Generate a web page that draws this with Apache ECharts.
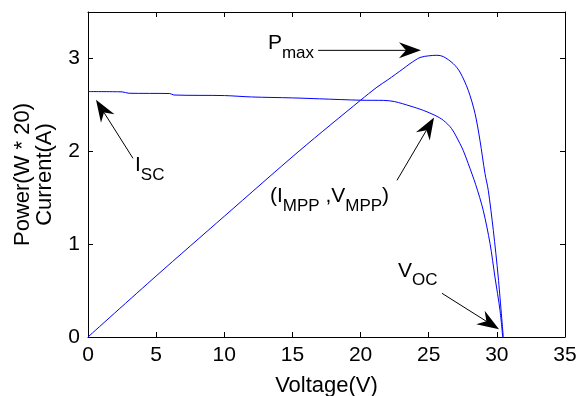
<!DOCTYPE html>
<html>
<head>
<meta charset="utf-8">
<script src="https://cdn.jsdelivr.net/npm/echarts@6/dist/echarts.min.js"></script>
<style>
html,body{margin:0;padding:0;background:#fff;}
#c{width:578px;height:396px;}
</style>
</head>
<body>
<div id="c"></div>
<script>
// ---- data ----
const xTicks = [0, 5, 10, 15, 20, 25, 30, 35];
const yTicks = [0, 1, 2, 3];

const currentV = [0, 2.5, 3.0, 6.0, 6.3, 10, 12, 15, 17, 20, 21.7, 22.5, 23.63, 24.6, 25.46, 26.07, 26.68, 27.29, 27.53, 27.9, 28.45, 29.0, 29.5, 29.86, 30.23, 30.43];
const currentI = [2.643, 2.640, 2.625, 2.622, 2.606, 2.600, 2.585, 2.575, 2.565, 2.550, 2.548, 2.535, 2.488, 2.441, 2.387, 2.334, 2.244, 2.083, 2.01, 1.867, 1.64, 1.364, 1.006, 0.646, 0.288, 0];

const powerV = [0, 5, 10, 15.55, 20, 21.2, 22, 23.1, 23.63, 24.36, 25.0, 25.6, 26.07, 26.8, 27.29, 27.9, 28.4, 28.76, 29.13, 29.37, 29.74, 30.1, 30.47];
const powerP = [0, 0.657, 1.30, 2.01, 2.55, 2.69, 2.77, 2.886, 2.944, 3.01, 3.028, 3.034, 3.02, 2.944, 2.854, 2.657, 2.406, 2.118, 1.76, 1.58, 1.149, 0.646, 0];

// annotations (arrow tail/head and label anchor in data units)
const annLabels = [
  [{t: 'P', sub: false}, {t: 'max', sub: true}],
  [{t: 'I', sub: false}, {t: 'SC', sub: true}],
  [{t: '(I', sub: false}, {t: 'MPP', sub: true}, {t: ' ,V', sub: false}, {t: 'MPP', sub: true}, {t: ')', sub: false}],
  [{t: 'V', sub: false}, {t: 'OC', sub: true}]
];
const annAnchor = [[13.2, 3.16], [3.45, 1.849], [13.35, 1.515], [22.75, 0.713]];
const annTail = [[16.88, 3.087], [3.30, 1.924], [22.67, 1.687], [25.97, 0.471]];
const annHead = [[24.43, 3.087], [0.587, 2.554], [25.39, 2.365], [30.16, 0.083]];

const FONT = "'Liberation Sans', Arial, Helvetica, sans-serif";
const chart = echarts.init(document.getElementById('c'));

function zip(a, b) { return a.map((v, i) => [v, b[i]]); }

const axisCommon = {
  axisLine: {show: true, onZero: false, lineStyle: {color: '#000', width: 1}},
  splitLine: {show: false}
};

chart.setOption({
  animation: false,
  backgroundColor: '#fff',
  grid: {left: 88, right: 13, top: 12, bottom: 59, containLabel: false, outerBoundsMode: 'none'},
  xAxis: [
    Object.assign({}, axisCommon, {
      type: 'value', min: 0, max: 35, interval: 5, position: 'bottom',
      axisTick: {show: true, inside: true, length: 5, lineStyle: {color: '#000'}, customValues: xTicks},
      axisLabel: {color: '#000', fontSize: 21, fontFamily: FONT, margin: 8, customValues: xTicks},
      name: 'Voltage(V)', nameLocation: 'middle', nameGap: 38,
      nameTextStyle: {color: '#000', fontSize: 22, fontFamily: FONT}
    }),
    Object.assign({}, axisCommon, {
      type: 'value', min: 0, max: 35, interval: 5, position: 'top',
      axisTick: {show: true, inside: true, length: 5, lineStyle: {color: '#000'}, customValues: xTicks},
      axisLabel: {show: false}
    })
  ],
  yAxis: [
    Object.assign({}, axisCommon, {
      type: 'value', min: 0, max: 3.5, interval: 1, position: 'left',
      axisTick: {show: true, inside: true, length: 5, lineStyle: {color: '#000'}, customValues: yTicks},
      axisLabel: {color: '#000', fontSize: 21, fontFamily: FONT, margin: 8, customValues: yTicks},
      name: 'Power(W * 20)\nCurrent(A)', nameLocation: 'middle', nameGap: 32, nameRotate: 90,
      nameTextStyle: {color: '#000', fontSize: 22, fontFamily: FONT, lineHeight: 22}
    }),
    Object.assign({}, axisCommon, {
      type: 'value', min: 0, max: 3.5, interval: 1, position: 'right',
      axisTick: {show: true, inside: true, length: 5, lineStyle: {color: '#000'}, customValues: yTicks},
      axisLabel: {show: false}
    })
  ],
  series: [
    {type: 'line', name: 'Current', xAxisIndex: 0, yAxisIndex: 0, data: zip(currentV, currentI),
     showSymbol: false, smooth: 0.3, lineStyle: {color: '#0000ff', width: 1}},
    {type: 'line', name: 'Power', xAxisIndex: 0, yAxisIndex: 0, data: zip(powerV, powerP),
     showSymbol: false, smooth: 0.3, lineStyle: {color: '#0000ff', width: 1}}
  ]
});

// ---- annotations ----
const graphics = [];
const toPx = p => chart.convertToPixel({xAxisIndex: 0, yAxisIndex: 0}, p);
const MAIN = 21, SUB = 17;
const ctx = document.createElement('canvas').getContext('2d');
for (let i = 0; i < annLabels.length; i++) {
  const t = toPx(annTail[i]), h = toPx(annHead[i]);
  const ang = Math.atan2(h[1] - t[1], h[0] - t[0]);
  const L = 22, W = 8, N = 7;
  const ca = Math.cos(ang), sa = Math.sin(ang);
  const pt = (dx, dy) => [h[0] + dx * ca - dy * sa, h[1] + dx * sa + dy * ca];
  graphics.push({type: 'line', silent: true, z: 100,
    shape: {x1: t[0], y1: t[1], x2: pt(-L + N, 0)[0], y2: pt(-L + N, 0)[1]},
    style: {stroke: '#000', lineWidth: 1}});
  graphics.push({type: 'polygon', silent: true, z: 100,
    shape: {points: [pt(0, 0), pt(-L, -W), pt(-L + N, 0), pt(-L, W)]},
    style: {fill: '#000'}});
  const a = toPx(annAnchor[i]);
  let x = a[0];
  annLabels[i].forEach(part => {
    const fs = part.sub ? SUB : MAIN;
    ctx.font = fs + 'px ' + FONT;
    graphics.push({type: 'text', silent: true, z: 100, x: x, y: a[1] + (part.sub ? 10 : 0),
      style: {text: part.t, fill: '#000', fontSize: fs, fontFamily: FONT, align: 'left', verticalAlign: 'middle'}});
    x += ctx.measureText(part.t).width;
  });
}
chart.setOption({graphic: graphics});
</script>
</body>
</html>
